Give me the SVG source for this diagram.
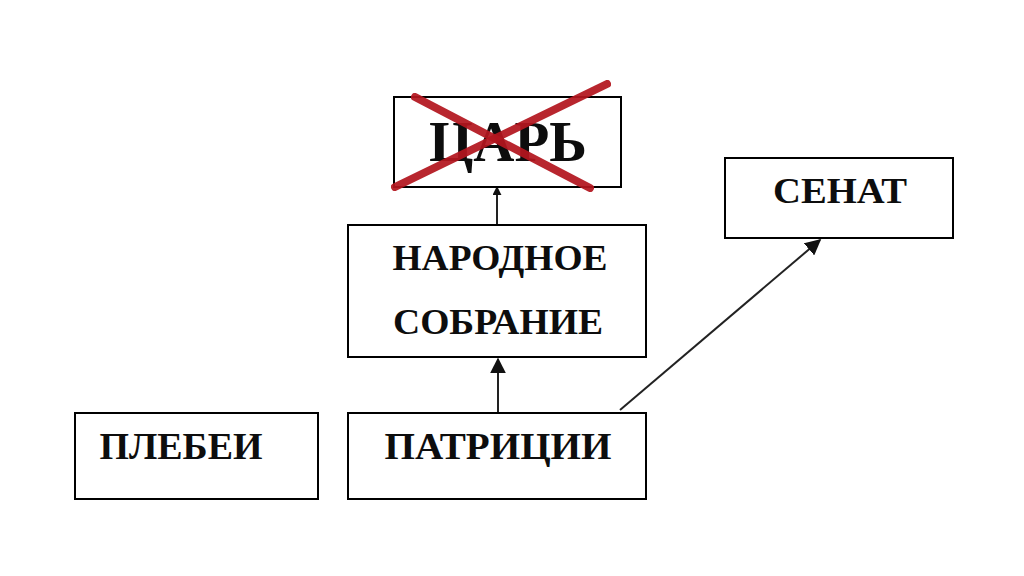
<svg xmlns="http://www.w3.org/2000/svg" width="1024" height="576" viewBox="0 0 1024 576">
<style>
.box{fill:#fff;stroke:#000;stroke-width:2}
.t{font-family:"Liberation Serif","Times New Roman",serif;font-weight:bold;fill:#0d0d0d}
.c{stroke:#222;stroke-width:2;fill:none}
.x{stroke:#b3161f;stroke-width:8;stroke-linecap:round;opacity:0.93}
</style>
<defs>
<marker id="ah" viewBox="0 0 10 10" refX="9" refY="5" markerWidth="9" markerHeight="9" markerUnits="userSpaceOnUse" orient="auto">
<path d="M0,0 L10,5 L0,10 z" fill="#111"/>
</marker>
<marker id="ahL" viewBox="0 0 10 10" refX="9" refY="5" markerWidth="16" markerHeight="16" markerUnits="userSpaceOnUse" orient="auto">
<path d="M0,0 L10,5 L0,10 z" fill="#111"/>
</marker>
</defs>
<rect width="1024" height="576" fill="#fff"/>
<g id="connectors">
<line class="c" x1="497" y1="225" x2="497" y2="187" marker-end="url(#ah)"/>
<line class="c" x1="498" y1="413" x2="498" y2="359" stroke="#555" marker-end="url(#ahL)"/>
<line class="c" x1="620" y1="410" x2="820" y2="240" marker-end="url(#ahL)"/>
</g>
<g id="tsar">
<rect class="box" x="394" y="97" width="227" height="90"/>
<text class="t" x="508" y="161" font-size="56" text-anchor="middle" textLength="158" lengthAdjust="spacingAndGlyphs">ЦАРЬ</text>
<line class="x" x1="415" y1="97" x2="590" y2="188"/>
<line class="x" x1="607" y1="84" x2="395" y2="187"/>
</g>
<g id="narodnoe">
<rect class="box" x="348" y="225" width="298" height="132"/>
<text class="t" x="500" y="270" font-size="36" text-anchor="middle" textLength="215" lengthAdjust="spacingAndGlyphs">НАРОДНОЕ</text>
<text class="t" x="498" y="334" font-size="36" text-anchor="middle" textLength="210" lengthAdjust="spacingAndGlyphs">СОБРАНИЕ</text>
</g>
<g id="senat">
<rect class="box" x="725" y="158" width="228" height="80"/>
<text class="t" x="840" y="203" font-size="36" text-anchor="middle" textLength="134" lengthAdjust="spacingAndGlyphs">СЕНАТ</text>
</g>
<g id="plebei">
<rect class="box" x="75" y="413" width="243" height="86"/>
<text class="t" x="181" y="459" font-size="38" text-anchor="middle" textLength="163" lengthAdjust="spacingAndGlyphs">ПЛЕБЕИ</text>
</g>
<g id="patricii">
<rect class="box" x="348" y="413" width="298" height="86"/>
<text class="t" x="498" y="459" font-size="37" text-anchor="middle" textLength="227" lengthAdjust="spacingAndGlyphs">ПАТРИЦИИ</text>
</g>
</svg>
